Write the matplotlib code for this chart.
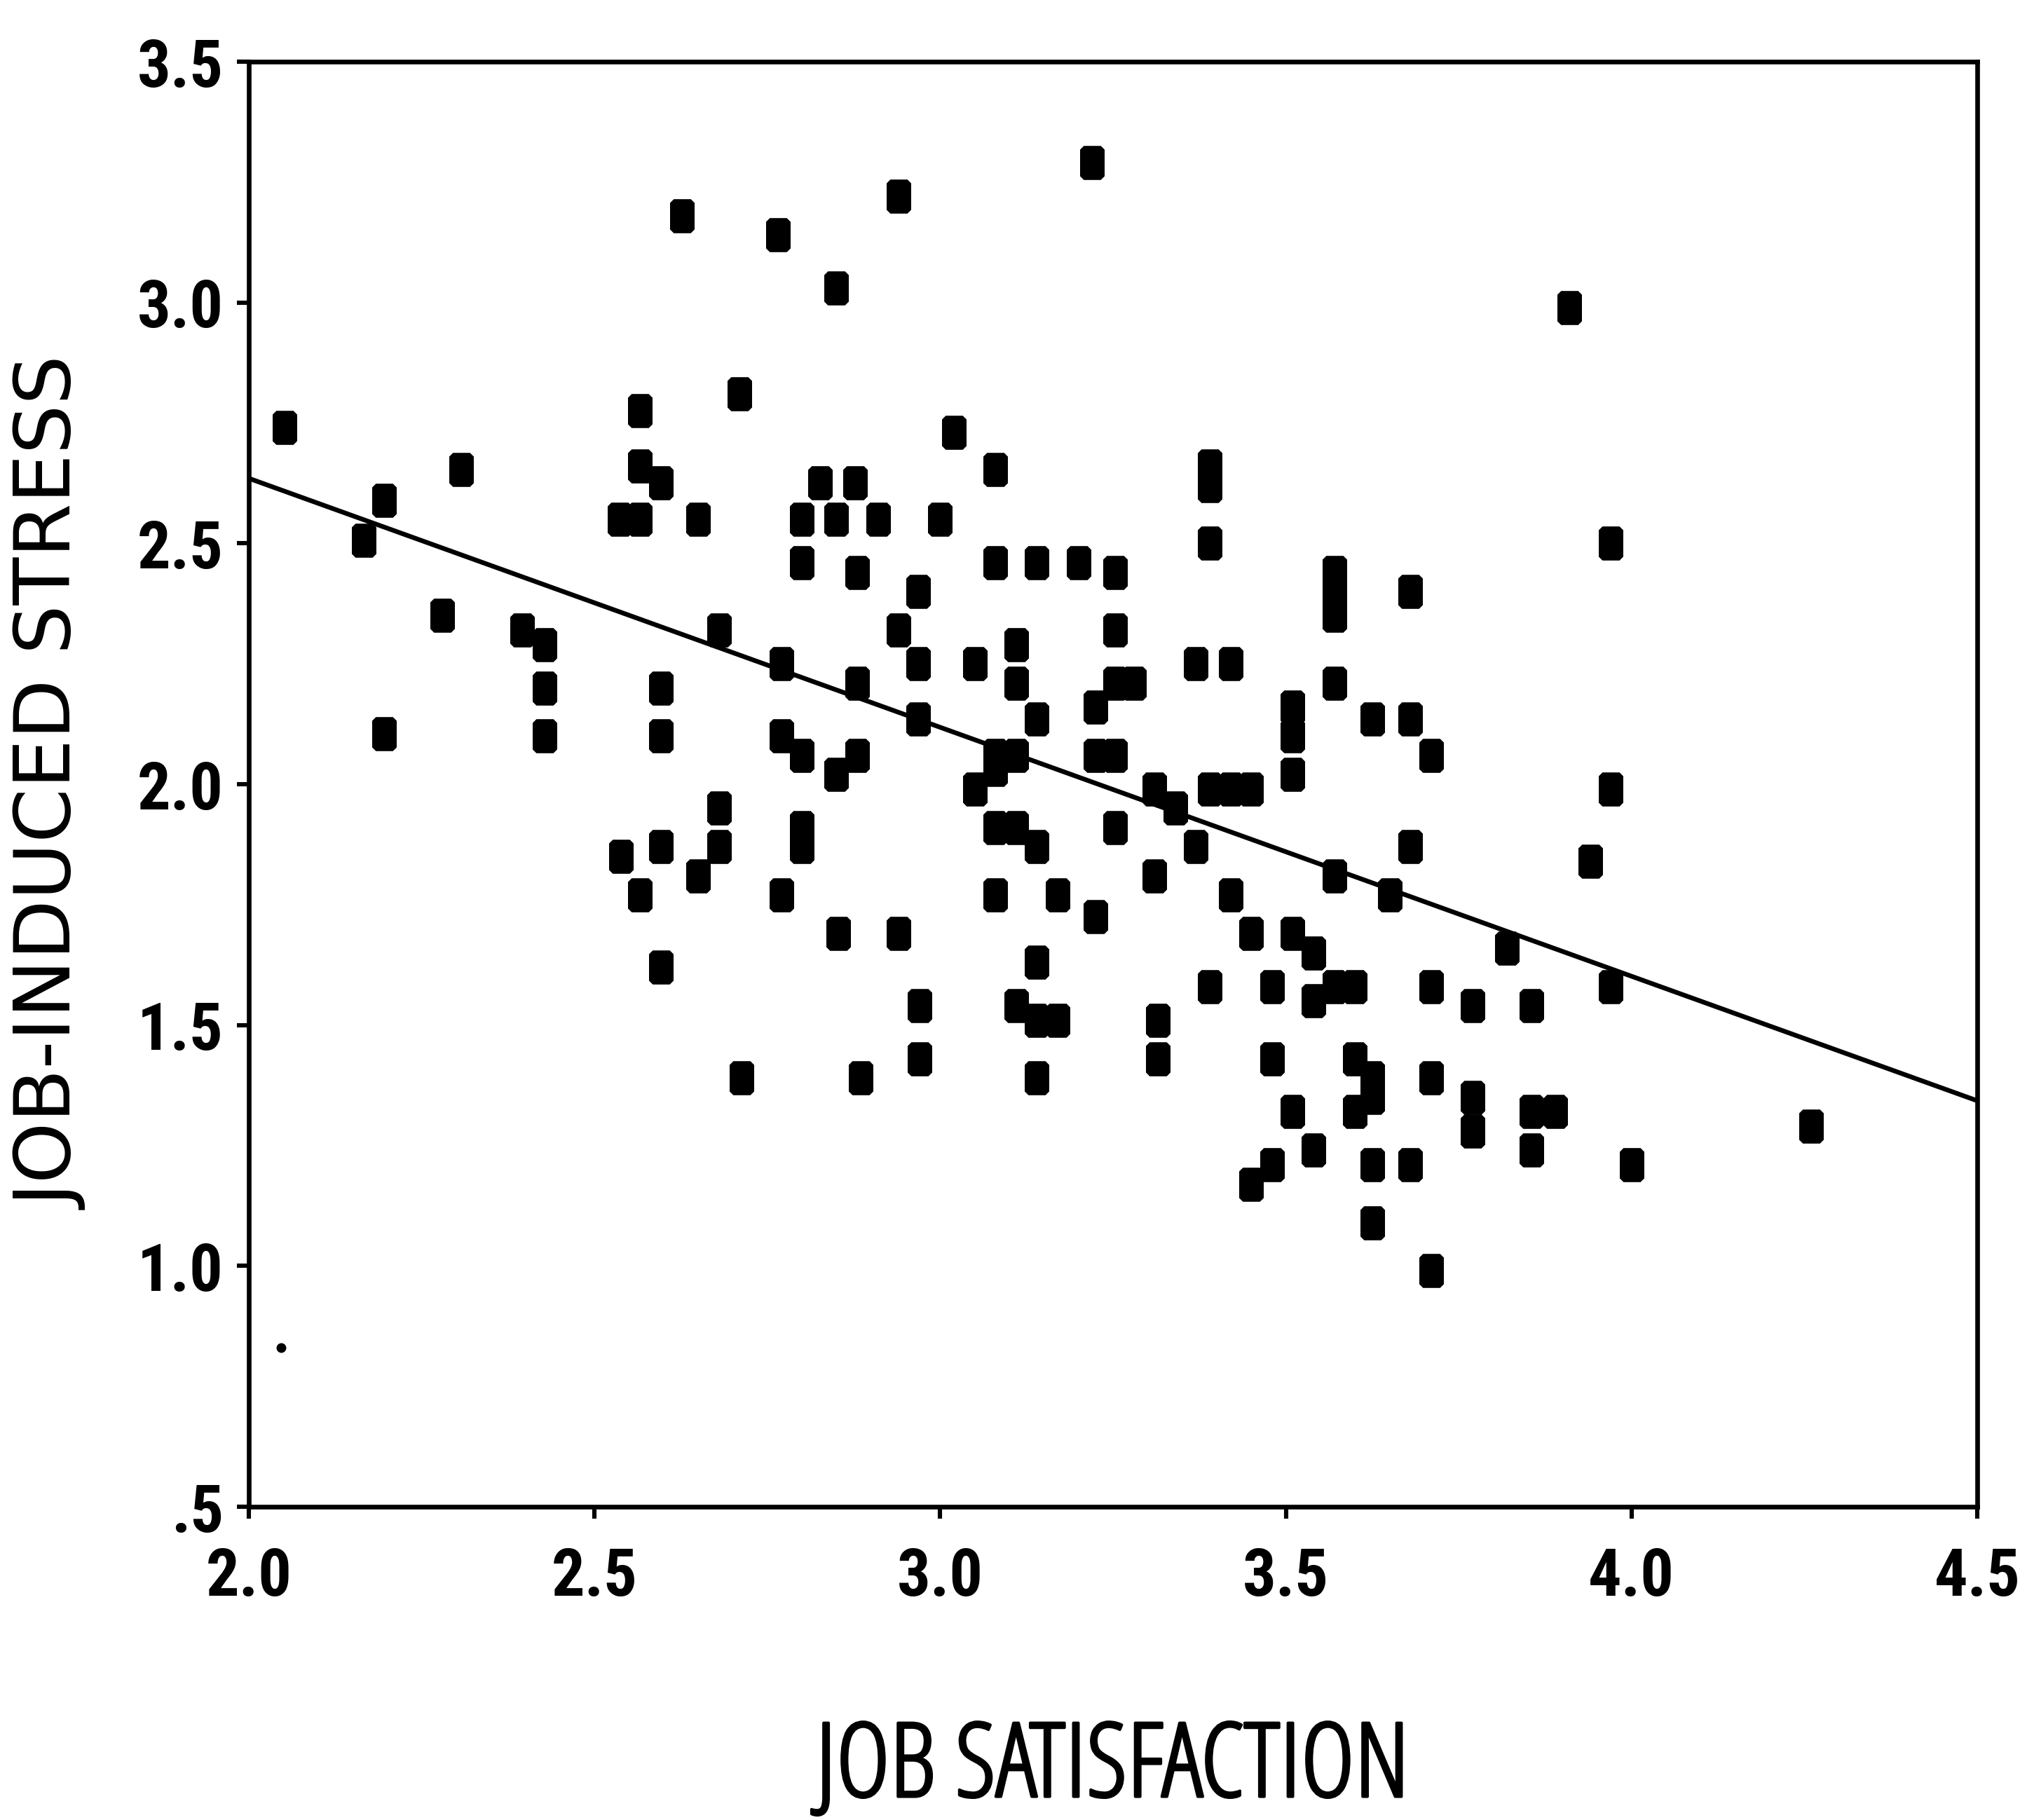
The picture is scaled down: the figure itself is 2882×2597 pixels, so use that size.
import os
import matplotlib
matplotlib.use("Agg")
import matplotlib.pyplot as plt
import matplotlib.patheffects as pe
from matplotlib import font_manager
from matplotlib.path import Path

# job satisfaction (x) vs job-induced stress (y)
job_sat = [2.052, 2.166, 2.196, 2.196, 2.28, 2.307, 2.395, 2.428, 2.428, 2.428,
           2.538, 2.536, 2.566, 2.566, 2.566, 2.596, 2.566, 2.596, 2.596, 2.596,
           2.596, 2.626, 2.65, 2.65, 2.68, 2.68, 2.68, 2.71, 2.713, 2.765,
           2.77, 2.77, 2.77, 2.80, 2.80, 2.80, 2.80, 2.80, 2.85, 2.826,
           2.877, 2.85, 2.85, 2.853, 2.88, 2.88, 2.88, 2.885, 2.91, 2.94,
           2.94, 2.94, 2.968, 2.968, 2.968, 2.97, 2.97, 3.0, 3.02, 3.05,
           3.05, 3.08, 3.08, 3.08, 3.08, 3.08, 3.08, 3.11, 3.11, 3.11,
           3.11, 3.11, 3.14, 3.14, 3.14, 3.14, 3.14, 3.17, 3.14, 3.17,
           3.20, 3.22, 3.225, 3.225, 3.253, 3.225, 3.253, 3.253, 3.253, 3.28,
           3.253, 3.31, 3.34, 3.31, 3.315, 3.315, 3.37, 3.37, 3.39, 3.39,
           3.39, 3.39, 3.42, 3.45, 3.39, 3.42, 3.42, 3.45, 3.45, 3.48,
           3.48, 3.48, 3.51, 3.51, 3.51, 3.51, 3.54, 3.51, 3.54, 3.54,
           3.57, 3.57, 3.57, 3.57, 3.57, 3.57, 3.60, 3.60, 3.625, 3.60,
           3.625, 3.625, 3.625, 3.625, 3.65, 3.68, 3.68, 3.68, 3.68, 3.71,
           3.71, 3.71, 3.71, 3.77, 3.77, 3.77, 3.82, 3.855, 3.855, 3.89,
           3.855, 3.91, 3.94, 3.97, 3.97, 3.97, 4.00, 4.26]
job_stress = [2.74, 2.507, 2.59, 2.105, 2.35, 2.654, 2.32, 2.29, 2.20, 2.10,
              1.85, 2.55, 2.55, 2.775, 2.66, 2.625, 1.77, 2.20, 2.10, 1.87,
              1.62, 3.18, 2.55, 1.81, 2.32, 1.95, 1.87, 2.81, 1.39, 3.14,
              2.25, 2.10, 1.77, 2.55, 2.46, 2.06, 1.91, 1.87, 3.03, 2.625,
              2.625, 2.55, 2.02, 1.69, 2.44, 2.21, 2.06, 1.39, 2.55, 3.22,
              2.32, 1.69, 2.40, 2.25, 2.135, 1.54, 1.43, 2.55, 2.73, 2.25,
              1.99, 2.654, 2.46, 2.03, 2.06, 1.91, 1.77, 2.29, 2.21, 2.06,
              1.91, 1.54, 2.46, 2.135, 1.87, 1.63, 1.51, 1.51, 1.39, 1.77,
              2.46, 3.29, 2.16, 2.06, 2.06, 1.725, 2.44, 2.32, 2.21, 2.21,
              1.91, 1.99, 1.95, 1.81, 1.51, 1.43, 2.25, 1.87, 2.66, 2.62,
              2.50, 1.99, 1.99, 1.99, 1.58, 2.25, 1.77, 1.69, 1.17, 1.21,
              1.58, 1.43, 2.16, 2.10, 2.02, 1.69, 1.65, 1.32, 1.55, 1.24,
              2.44, 2.40, 2.35, 2.21, 1.81, 1.58, 1.58, 1.43, 1.39, 1.32,
              1.35, 2.135, 1.21, 1.09, 1.77, 2.40, 2.135, 1.87, 1.21, 2.06,
              1.58, 1.39, 0.99, 1.54, 1.35, 1.28, 1.66, 1.54, 1.32, 1.32,
              1.24, 2.99, 1.84, 2.50, 1.99, 1.58, 1.21, 1.29]

# the single small dot in the lower left
dot_sat = [2.047]
dot_stress = [0.83]

# fitted regression line
fit_x = [2.0, 4.5]
fit_y = [2.635, 1.343]

x_ticks = [2.0, 2.5, 3.0, 3.5, 4.0, 4.5]
x_tick_labels = ["2.0", "2.5", "3.0", "3.5", "4.0", "4.5"]
y_ticks = [0.5, 1.0, 1.5, 2.0, 2.5, 3.0, 3.5]
y_tick_labels = [".5", "1.0", "1.5", "2.0", "2.5", "3.0", "3.5"]


def pick_font(files, size, fallback):
    # first narrow font file that is installed, else a plain family
    have = {os.path.basename(f.fname): f.fname
            for f in font_manager.fontManager.ttflist}
    for name in files:
        if name in have:
            return font_manager.FontProperties(fname=have[name], size=size), name
    return font_manager.FontProperties(family=fallback[0], weight=fallback[1],
                                       size=size), None


tick_font, _ = pick_font(["NotoSans-ExtraCondensedBold.ttf",
                          "LiberationSansNarrow-Bold.ttf",
                          "NotoSans-CondensedBold.ttf",
                          "RobotoCondensed-Bold.ttf",
                          "DejaVuSansCondensed-Bold.ttf"],
                         34, ("Liberation Sans", "bold"))
xlab_font, xlab_file = pick_font(["OpenSans-CondLight.ttf",
                                  "NotoSans-ExtraCondensed.ttf",
                                  "LiberationSansNarrow-Regular.ttf",
                                  "NotoSans-Condensed.ttf",
                                  "RobotoCondensed-Regular.ttf",
                                  "DejaVuSansCondensed.ttf"],
                                 53, ("Liberation Sans", "normal"))
# the light condensed face needs a slightly heavier stroke to look like the scan
xlab_fx = [pe.withStroke(linewidth=1.4, foreground="black")] \
    if xlab_file == "OpenSans-CondLight.ttf" else []

# tall chamfered rectangle, like the scanned markers
w, h, c = 0.36, 0.5, 0.11
verts = [(-w + c, -h), (w - c, -h), (w, -h + c), (w, h - c), (w - c, h),
         (-w + c, h), (-w, h - c), (-w, -h + c), (-w + c, -h)]
codes = [Path.MOVETO] + [Path.LINETO] * 7 + [Path.CLOSEPOLY]
box_marker = Path(verts, codes)

fig = plt.figure(figsize=(14.41, 12.985), dpi=200)
ax = fig.add_axes([0.1232, 0.1721, 0.8556, 0.794])

ax.plot(fit_x, fit_y, color="black", lw=2.4, zorder=2)
ax.scatter(job_sat, job_stress, marker=box_marker, s=17.5 ** 2,
           color="black", linewidths=0, zorder=3)
ax.scatter(dot_sat, dot_stress, marker="o", s=5 ** 2, color="black",
           linewidths=0, zorder=3)

ax.set_xlim(2.0, 4.5)
ax.set_ylim(0.5, 3.5)
for sp in ax.spines.values():
    sp.set_linewidth(2.4)

ax.set_xticks(x_ticks)
ax.set_xticklabels(x_tick_labels, fontproperties=tick_font)
ax.set_yticks(y_ticks)
ax.set_yticklabels(y_tick_labels, fontproperties=tick_font)
ax.tick_params(direction="out", length=6, width=2.2)
ax.tick_params(axis="x", pad=14)
ax.tick_params(axis="y", pad=7)

ax.set_ylabel("JOB-INDUCED STRESS", family="DejaVu Sans", fontsize=40)
ax.yaxis.set_label_coords(-0.092, 0.5)
ax.set_xlabel("JOB SATISFACTION", fontproperties=xlab_font,
              path_effects=xlab_fx)
ax.xaxis.set_label_coords(0.5, -0.146)

fig.savefig("out.png", dpi=200, facecolor="white")
